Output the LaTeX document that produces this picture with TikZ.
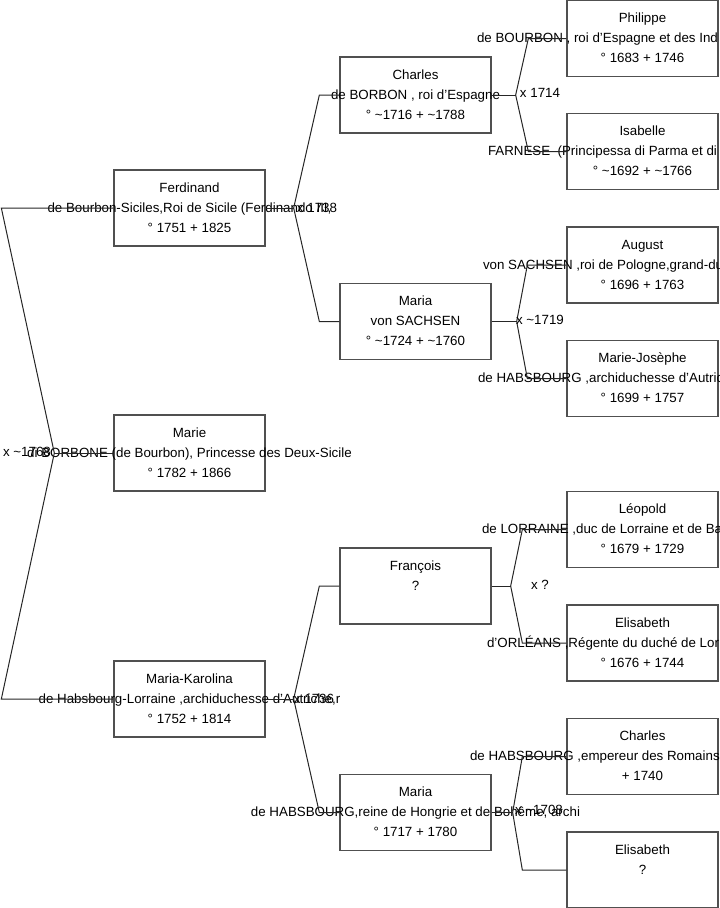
\documentclass[tikz,border=0pt]{standalone}
\usepackage{fontspec}
\setmainfont{Liberation Sans}
\usetikzlibrary{calc}
\definecolor{boxgray}{RGB}{80,80,80}
\newdimen\pxd \pxd=0.75pt
% three centred lines that may run past the box
\newcommand{\who}[3]{\makebox[0pt]{\strut#1}\\\makebox[0pt]{\strut#2}\\\makebox[0pt]{\strut#3}}
% line cut by the page edge, starting #1 px left of the box centre
\newcommand{\cutl}[2]{\makebox[0pt][l]{\hspace*{-#1\pxd}#2}}
\newcommand{\tld}{\textasciitilde}
\tikzset{
  personbox/.style={draw=boxgray, line width=1pt, rectangle, minimum width=113.25pt, minimum height=57pt, inner sep=0pt, align=center, font=\fontsize{10}{15}\selectfont},
  link/.style={draw=black!85, line width=0.75pt},
  marriage/.style={inner sep=0pt, font=\fontsize{10}{15}\selectfont}
}
\begin{document}
\begin{tikzpicture}[x=0.75pt, y=-0.75pt]
  \useasboundingbox (0,0) rectangle (719,908);

  % generation 0 and 1
  \node[personbox] (marie) at (189.5,453) {\who{Marie}{di BORBONE (de Bourbon), Princesse des Deux-Sicile}{° 1782 + 1866}};
  \node[personbox] (ferdinand) at (189.5,208) {\who{Ferdinand}{de Bourbon-Siciles,Roi de Sicile (Ferdinando III,}{° 1751 + 1825}};
  \node[personbox] (karolina) at (189.5,699) {\who{Maria-Karolina}{de Habsbourg-Lorraine ,archiduchesse d'Autriche,r}{° 1752 + 1814}};

  % generation 2
  \node[personbox] (charles) at (415.5,95) {\who{Charles}{de BORBON , roi d'Espagne}{° \tld1716 + \tld1788}};
  \node[personbox] (mariasx) at (415.5,321.5) {\who{Maria}{von SACHSEN}{° \tld1724 + \tld1760}};
  \node[personbox] (francois) at (415.5,586) {\who{François}{?}{}};
  \node[personbox] (mariahb) at (415.5,812.5) {\who{Maria}{de HABSBOURG,reine de Hongrie et de Bohême, archi}{° 1717 + 1780}};

  % generation 3
  \node[personbox] (philippe) at (642.5,38.5) {\who{Philippe}{\cutl{165.5}{de BOURBON , roi d'Espagne et des Ind}}{° 1683 + 1746}};
  \node[personbox] (isabelle) at (642.5,151.5) {\who{Isabelle}{\cutl{154.5}{FARNESE~ (Principessa di Parma et di}}{° \tld1692 + \tld1766}};
  \node[personbox] (august) at (642.5,265) {\who{August}{\cutl{159.5}{von SACHSEN ,roi de Pologne,grand-du}}{° 1696 + 1763}};
  \node[personbox] (mariejo) at (642.5,378.5) {\who{Marie-Josèphe}{\cutl{164.5}{de HABSBOURG ,archiduchesse d'Autric}}{° 1699 + 1757}};
  \node[personbox] (leopold) at (642.5,529.5) {\who{Léopold}{\cutl{160.5}{de LORRAINE ,duc de Lorraine et de Ba}}{° 1679 + 1729}};
  \node[personbox] (elisabetho) at (642.5,643) {\who{Elisabeth}{\cutl{155.5}{d'ORLÉANS ,Régente du duché de Lor}}{° 1676 + 1744}};
  \node[personbox] (charleshb) at (642.5,756.5) {\who{Charles}{\cutl{172.5}{de HABSBOURG ,empereur des Romains}}{+ 1740}};
  \node[personbox] (elisabethhb) at (642.5,870) {\who{Elisabeth}{?}{}};

  % forks
  \draw[link] (marie.west) -- ++(-59,0) coordinate (fk0);
  \draw[link] (fk0) -- ($(ferdinand.west)+(-112,0)$) -- (ferdinand.west);
  \draw[link] (fk0) -- ($(karolina.west)+(-112,0)$) -- (karolina.west);

  \draw[link] (ferdinand.east) -- ++(28,0) coordinate (fk1);
  \draw[link] (fk1) -- ($(charles.west)+(-20,0)$) -- (charles.west);
  \draw[link] (fk1) -- ($(mariasx.west)+(-20,0)$) -- (mariasx.west);

  \draw[link] (karolina.east) -- ++(28,0) coordinate (fk2);
  \draw[link] (fk2) -- ($(francois.west)+(-20,0)$) -- (francois.west);
  \draw[link] (fk2) -- ($(mariahb.west)+(-20,0)$) -- (mariahb.west);

  \draw[link] (charles.east) -- ++(24,0) coordinate (fk3);
  \draw[link] (fk3) -- ($(philippe.west)+(-38,0)$) -- (philippe.west);
  \draw[link] (fk3) -- ($(isabelle.west)+(-38,0)$) -- (isabelle.west);

  \draw[link] (mariasx.east) -- ++(25,0) coordinate (fk4);
  \draw[link] (fk4) -- ($(august.west)+(-39,0)$) -- (august.west);
  \draw[link] (fk4) -- ($(mariejo.west)+(-39,0)$) -- (mariejo.west);

  \draw[link] (francois.east) -- ++(19,0) coordinate (fk5);
  \draw[link] (fk5) -- ($(leopold.west)+(-44,0)$) -- (leopold.west);
  \draw[link] (fk5) -- ($(elisabetho.west)+(-44,0)$) -- (elisabetho.west);

  \draw[link] (mariahb.east) -- ++(21,0) coordinate (fk6);
  \draw[link] (fk6) -- ($(charleshb.west)+(-44,0)$) -- (charleshb.west);
  \draw[link] (fk6) -- ($(elisabethhb.west)+(-44,0)$) -- (elisabethhb.west);

  % marriage dates
  \node[marriage] (m0) at (27,452) {x \tld1768};
  \node[marriage] (m1) at (317,208) {x 1738};
  \node[marriage] (m2) at (314,699) {x 1736};
  \node[marriage] (m3) at (540,93) {x 1714};
  \node[marriage] (m4) at (540,320) {x \tld1719};
  \node[marriage] (m5) at (540,585) {x ?};
  \node[marriage] (m6) at (539,810) {x \tld1708};
\end{tikzpicture}
\end{document}
